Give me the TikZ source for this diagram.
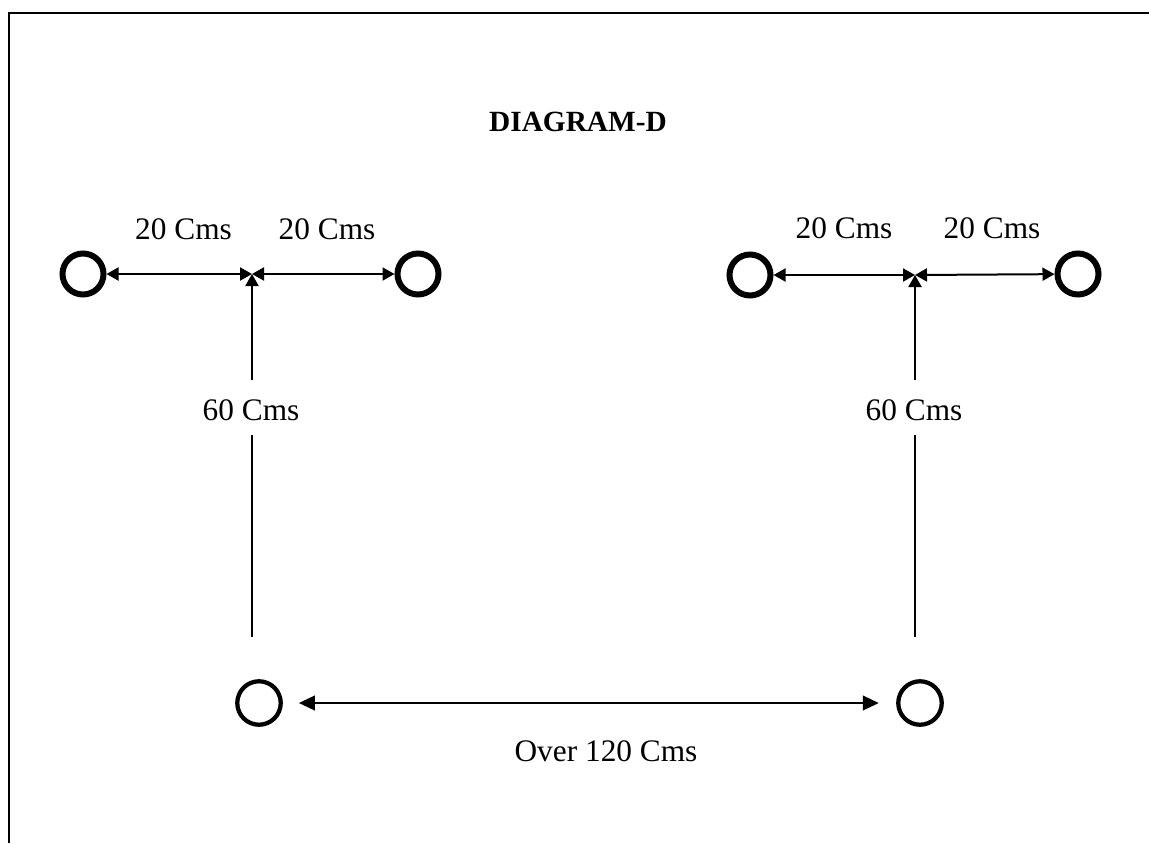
\documentclass[tikz,border=0pt]{standalone}
\usepackage{fontspec}
\setmainfont{Liberation Serif}
\usetikzlibrary{arrows.meta}
\begin{document}
\begin{tikzpicture}[x=0.75pt,y=-0.75pt,
  lbl/.style={font=\fontsize{23.5}{27}\selectfont, inner sep=0pt},
  ttl/.style={font=\fontsize{22}{26}\selectfont\bfseries, inner sep=0pt},
  ringA/.style={circle, draw, line width=4.5pt, minimum size=30.75pt, inner sep=0pt},
  ringB/.style={circle, draw, line width=3.2pt, minimum size=32.6pt, inner sep=0pt},
  tipA/.tip={Triangle[length=9pt,width=9.75pt]},
  tipB/.tip={Triangle[length=12pt,width=11pt]},
  dimA/.style={line width=1.5pt, tipA-tipA},
  dimB/.style={line width=1.5pt, tipB-tipB, shorten <=12pt, shorten >=13pt},
  vline/.style={line width=1.5pt},
  frame/.style={line width=1.5pt}]
\useasboundingbox (0,0) rectangle (1149,843);
% frame (top and left only)
\draw[frame] (9,843) -- (9,13) -- (1149,13);
% title
\node[ttl] (title) at (578,122) {DIAGRAM-D};
% left group
\node[ringA] (L1) at (83,274) {};
\node[ringA] (L2) at (418,274) {};
\coordinate (LJ) at (252,274);
\coordinate (LVa) at (252,380);
\coordinate (LVb) at (252,435);
\coordinate (LVc) at (252,637);
\draw[dimA] (L1) -- (LJ);
\draw[dimA] (LJ) -- (L2);
\draw[vline,-tipA] (LVa) -- (LJ);
\draw[vline] (LVb) -- (LVc);
\node[lbl] (l20a) at (183.5,229) {20 Cms};
\node[lbl] (l20b) at (327,229) {20 Cms};
\node[lbl] (l60a) at (251,410) {60 Cms};
% right group
\node[ringA] (R1) at (750,275) {};
\node[ringA] (R2) at (1078,274) {};
\coordinate (RJ) at (915,275);
\coordinate (RVa) at (915,380);
\coordinate (RVb) at (915,435);
\coordinate (RVc) at (915,637);
\draw[dimA] (R1) -- (RJ);
\draw[dimA] (RJ) -- (R2);
\draw[vline,-tipA] (RVa) -- (RJ);
\draw[vline] (RVb) -- (RVc);
\node[lbl] (r20a) at (844,228) {20 Cms};
\node[lbl] (r20b) at (992,228) {20 Cms};
\node[lbl] (r60a) at (914,410) {60 Cms};
% bottom
\node[ringB] (B1) at (259,703) {};
\node[ringB] (B2) at (920,703) {};
\draw[dimB] (B1) -- (B2);
\node[lbl] (l120) at (606,751) {Over 120 Cms};
\end{tikzpicture}
\end{document}
